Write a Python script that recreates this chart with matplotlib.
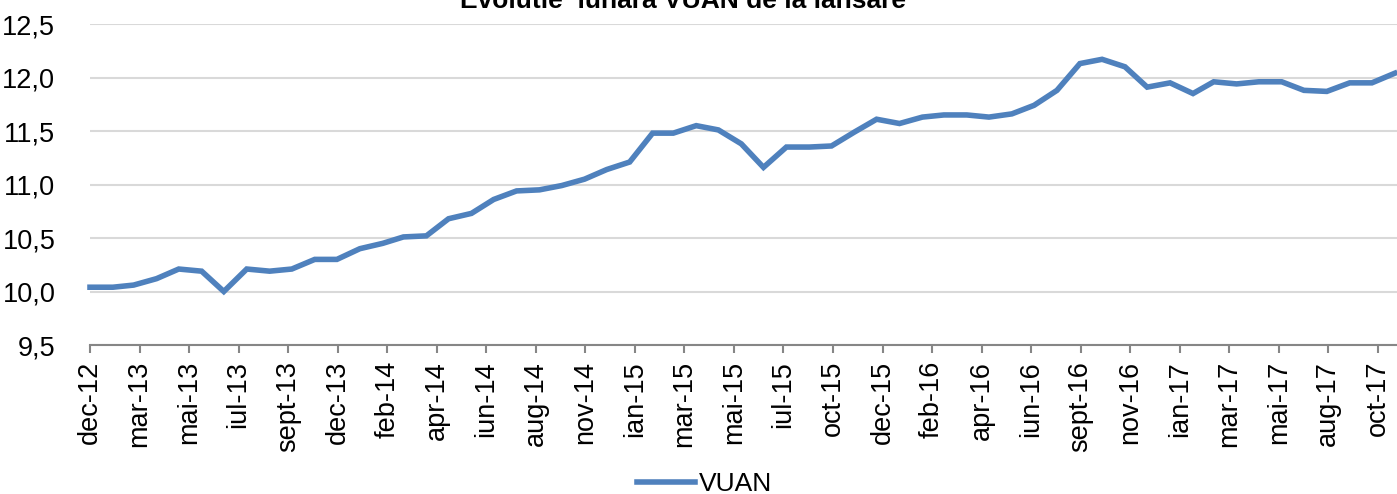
import matplotlib

matplotlib.use("Agg")
import matplotlib.pyplot as plt
import matplotlib.ticker as mticker
import pandas as pd

plt.rcParams["font.family"] = ["Liberation Sans", "DejaVu Sans"]

LINE_BLUE = "#4F81BD"
GRID_GREY = "#D9D9D9"
AXIS_GREY = "#868686"

TITLE = "Evolutie  lunara VUAN de la lansare"
SERIES_NAME = "VUAN"

# monthly values, dec-12 .. oct-17
vuan = [
    10.04, 10.04, 10.06, 10.12, 10.21, 10.19, 10.00, 10.21, 10.19, 10.21,
    10.30, 10.30, 10.40, 10.45, 10.51, 10.52, 10.68, 10.73, 10.86, 10.94,
    10.95, 10.99, 11.05, 11.14, 11.21, 11.48, 11.48, 11.55, 11.51, 11.38,
    11.16, 11.35, 11.35, 11.36, 11.49, 11.61, 11.57, 11.63, 11.65, 11.65,
    11.63, 11.66, 11.74, 11.88, 12.13, 12.17, 12.10, 11.91, 11.95, 11.85,
    11.96, 11.94, 11.96, 11.96, 11.88, 11.87, 11.95, 11.95, 12.04,
]
dates = pd.date_range("2012-12-31", periods=len(vuan), freq="ME")

tick_labels = [
    "dec-12", "mar-13", "mai-13", "iul-13", "sept-13", "dec-13", "feb-14",
    "apr-14", "iun-14", "aug-14", "nov-14", "ian-15", "mar-15", "mai-15",
    "iul-15", "oct-15", "dec-15", "feb-16", "apr-16", "iun-16", "sept-16",
    "nov-16", "ian-17", "mar-17", "mai-17", "aug-17", "oct-17",
]
y_ticks = [9.5, 10.0, 10.5, 11.0, 11.5, 12.0, 12.5]


def main():
    fig = plt.figure(figsize=(13.97, 4.94), dpi=100)
    W, H = 1397, 494
    left, right = 90, 1400
    bottom, top = 345, 24
    ax = fig.add_axes([left / W, 1 - bottom / H, (right - left) / W, (bottom - top) / H])

    ax.plot(dates, vuan, color=LINE_BLUE, linewidth=4, solid_joinstyle="miter",
            label=SERIES_NAME, clip_on=False, zorder=3)

    # date axis, major unit of 67 days like the original
    ticks = [dates[0] + pd.Timedelta(days=67 * k) for k in range(len(tick_labels))]
    ax.set_xticks(ticks)
    ax.set_xticklabels(tick_labels, rotation=90, fontsize=19.5)
    ax.set_xlim(dates[0], dates[-1] + pd.Timedelta(days=7))

    ax.set_ylim(9.5, 12.5)
    ax.set_yticks(y_ticks)
    ax.yaxis.set_major_formatter(
        mticker.FuncFormatter(lambda v, p: f"{v:.1f}".replace(".", ","))
    )
    ax.tick_params(axis="y", length=0, labelsize=19.5, pad=25)
    ax.tick_params(axis="x", direction="out", length=5.5, width=1.5,
                   color=AXIS_GREY, pad=6)

    ax.grid(axis="y", color=GRID_GREY, linewidth=1.5)
    ax.set_axisbelow(True)
    for side in ("left", "right", "top"):
        ax.spines[side].set_visible(False)
    ax.spines["bottom"].set_color(AXIS_GREY)
    ax.spines["bottom"].set_linewidth(1.5)

    fig.text(683 / W, 1 - 8 / H, TITLE, ha="center", va="baseline",
             fontsize=19, fontweight="bold")

    fig.legend(loc="center", bbox_to_anchor=(705 / W, 1 - 484 / H), frameon=False,
               fontsize=19, handlelength=2.2, handletextpad=0.15)

    fig.savefig("out.png", dpi=100, facecolor="white")
    plt.close(fig)


if __name__ == "__main__":
    main()
